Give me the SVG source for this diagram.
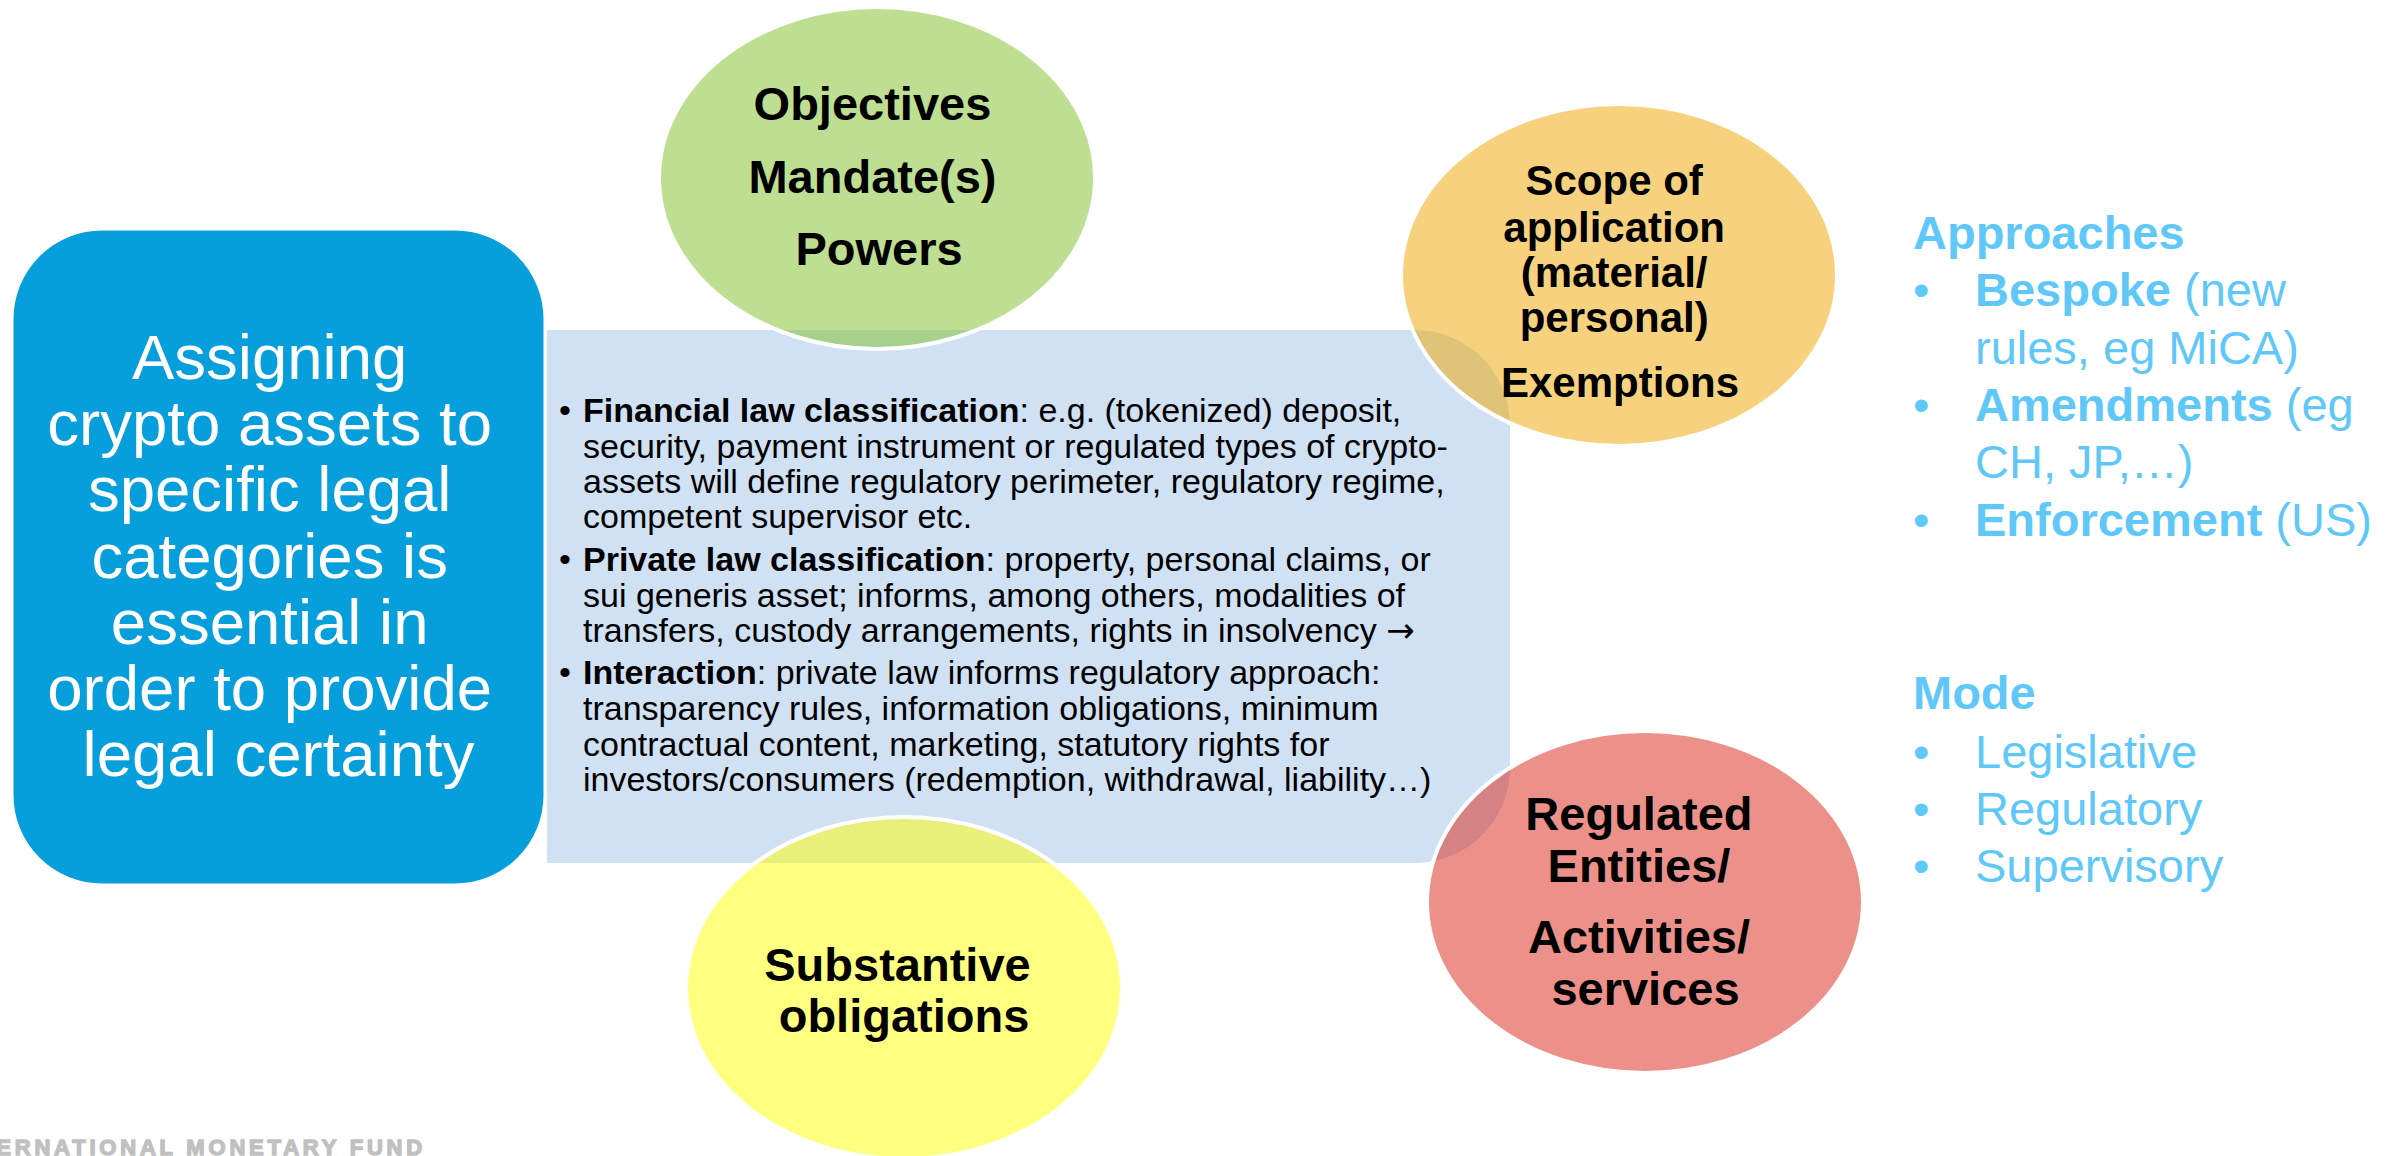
<svg xmlns="http://www.w3.org/2000/svg" width="2402" height="1156" viewBox="0 0 2402 1156">
  <style>
    .sans { font-family: "Liberation Sans", Arial, sans-serif; }
    .lead { font-size: 63.5px; fill: #ffffff; text-anchor: middle; }
    .body { font-size: 34px; fill: #000000; }
    .b { font-weight: bold; }
    .arrow { font-family: "DejaVu Sans", sans-serif; }
    .label { font-size: 47px; font-weight: bold; fill: #000000; text-anchor: middle; }
    .label-sm { font-size: 42px; }
    .side { font-size: 47px; fill: #5FC8F8; }
    .bubble { stroke: #ffffff; stroke-width: 4; fill-opacity: 0.5; }
    .footer { font-size: 22px; font-weight: bold; fill: #C0C0C0; stroke: #C0C0C0; stroke-width: 1.4; letter-spacing: 3.8px; text-anchor: end; }
  </style>

  <rect x="0" y="0" width="2402" height="1156" fill="#ffffff"/>

  <!-- light blue panel with rounded right-hand corners -->
  <g id="classification-panel">
    <path d="M547,330 H1415 A95,95 0 0 1 1510,425 V768 A95,95 0 0 1 1415,863 H547 Z" fill="#D0E1F3"/>
  </g>

  <!-- main statement box -->
  <g id="statement">
    <rect x="12" y="229" width="533" height="656" rx="90" ry="90" fill="#069FDB" stroke="#ffffff" stroke-width="3"/>
    <text class="sans lead">
      <tspan x="278.5" y="379">Assigning</tspan>
      <tspan x="278.5" y="445">crypto assets to</tspan>
      <tspan x="278.5" y="511">specific legal</tspan>
      <tspan x="278.5" y="578">categories is</tspan>
      <tspan x="278.5" y="644">essential in</tspan>
      <tspan x="278.5" y="710">order to provide</tspan>
      <tspan x="278.5" y="776">legal certainty</tspan>
    </text>
  </g>

  <!-- satellite bubbles (half-transparent so the panel tints the overlap) -->
  <g id="objectives">
    <ellipse class="bubble" cx="877" cy="178" rx="218" ry="171" fill="#7DBF25"/>
    <text class="sans label">
      <tspan x="879" y="120">Objectives</tspan>
      <tspan x="879" y="193">Mandate(s)</tspan>
      <tspan x="879" y="265">Powers</tspan>
    </text>
  </g>

  <g id="scope">
    <ellipse class="bubble" cx="1619" cy="275" rx="218" ry="171" fill="#EDA500"/>
    <text class="sans label label-sm">
      <tspan x="1620" y="195">Scope of</tspan>
      <tspan x="1620" y="242">application</tspan>
      <tspan x="1620" y="287">(material/</tspan>
      <tspan x="1620" y="332">personal)</tspan>
      <tspan x="1620" y="397">Exemptions</tspan>
    </text>
  </g>

  <g id="regulated-entities">
    <ellipse class="bubble" cx="1645" cy="902" rx="218" ry="171" fill="#D92315"/>
    <text class="sans label">
      <tspan x="1645.5" y="830">Regulated</tspan>
      <tspan x="1645.5" y="882">Entities/</tspan>
      <tspan x="1645.5" y="953">Activities/</tspan>
      <tspan x="1645.5" y="1005">services</tspan>
    </text>
  </g>

  <g id="substantive-obligations">
    <ellipse class="bubble" cx="904" cy="988" rx="218" ry="171" fill="#FFFF01"/>
    <text class="sans label">
      <tspan x="904" y="981">Substantive</tspan>
      <tspan x="904" y="1032">obligations</tspan>
    </text>
  </g>

  <!-- bullet text on the panel -->
  <g id="classification-text" class="sans body">
    <text x="559" y="421.7">•</text>
    <text x="583" y="421.7"><tspan class="b">Financial law classification</tspan>: e.g. (tokenized) deposit,</text>
    <text x="583" y="457.7">security, payment instrument or regulated types of crypto-</text>
    <text x="583" y="493">assets will define regulatory perimeter, regulatory regime,</text>
    <text x="583" y="528">competent supervisor etc.</text>

    <text x="559" y="571">•</text>
    <text x="583" y="571"><tspan class="b">Private law classification</tspan>: property, personal claims, or</text>
    <text x="583" y="607">sui generis asset; informs, among others, modalities of</text>
    <text x="583" y="642">transfers, custody arrangements, rights in insolvency <tspan class="arrow">→</tspan></text>

    <text x="559" y="684">•</text>
    <text x="583" y="684"><tspan class="b">Interaction</tspan>: private law informs regulatory approach:</text>
    <text x="583" y="720">transparency rules, information obligations, minimum</text>
    <text x="583" y="756">contractual content, marketing, statutory rights for</text>
    <text x="583" y="791">investors/consumers (redemption, withdrawal, liability…)</text>
  </g>

  <!-- side notes -->
  <g id="approaches" class="sans side">
    <text x="1913" y="249" class="b">Approaches</text>
    <text x="1913" y="306">•</text>
    <text x="1975" y="306"><tspan class="b">Bespoke</tspan> (new</text>
    <text x="1975" y="364">rules, eg MiCA)</text>
    <text x="1913" y="421">•</text>
    <text x="1975" y="421"><tspan class="b">Amendments</tspan> (eg</text>
    <text x="1975" y="478">CH, JP,…)</text>
    <text x="1913" y="536">•</text>
    <text x="1975" y="536"><tspan class="b">Enforcement</tspan> (US)</text>
  </g>

  <g id="mode" class="sans side">
    <text x="1913" y="709" class="b">Mode</text>
    <text x="1913" y="768">•</text>
    <text x="1975" y="768">Legislative</text>
    <text x="1913" y="825">•</text>
    <text x="1975" y="825">Regulatory</text>
    <text x="1913" y="882">•</text>
    <text x="1975" y="882">Supervisory</text>
  </g>

  <g id="connectors"/>

  <text class="sans footer" x="426" y="1155">INTERNATIONAL MONETARY FUND</text>
</svg>
